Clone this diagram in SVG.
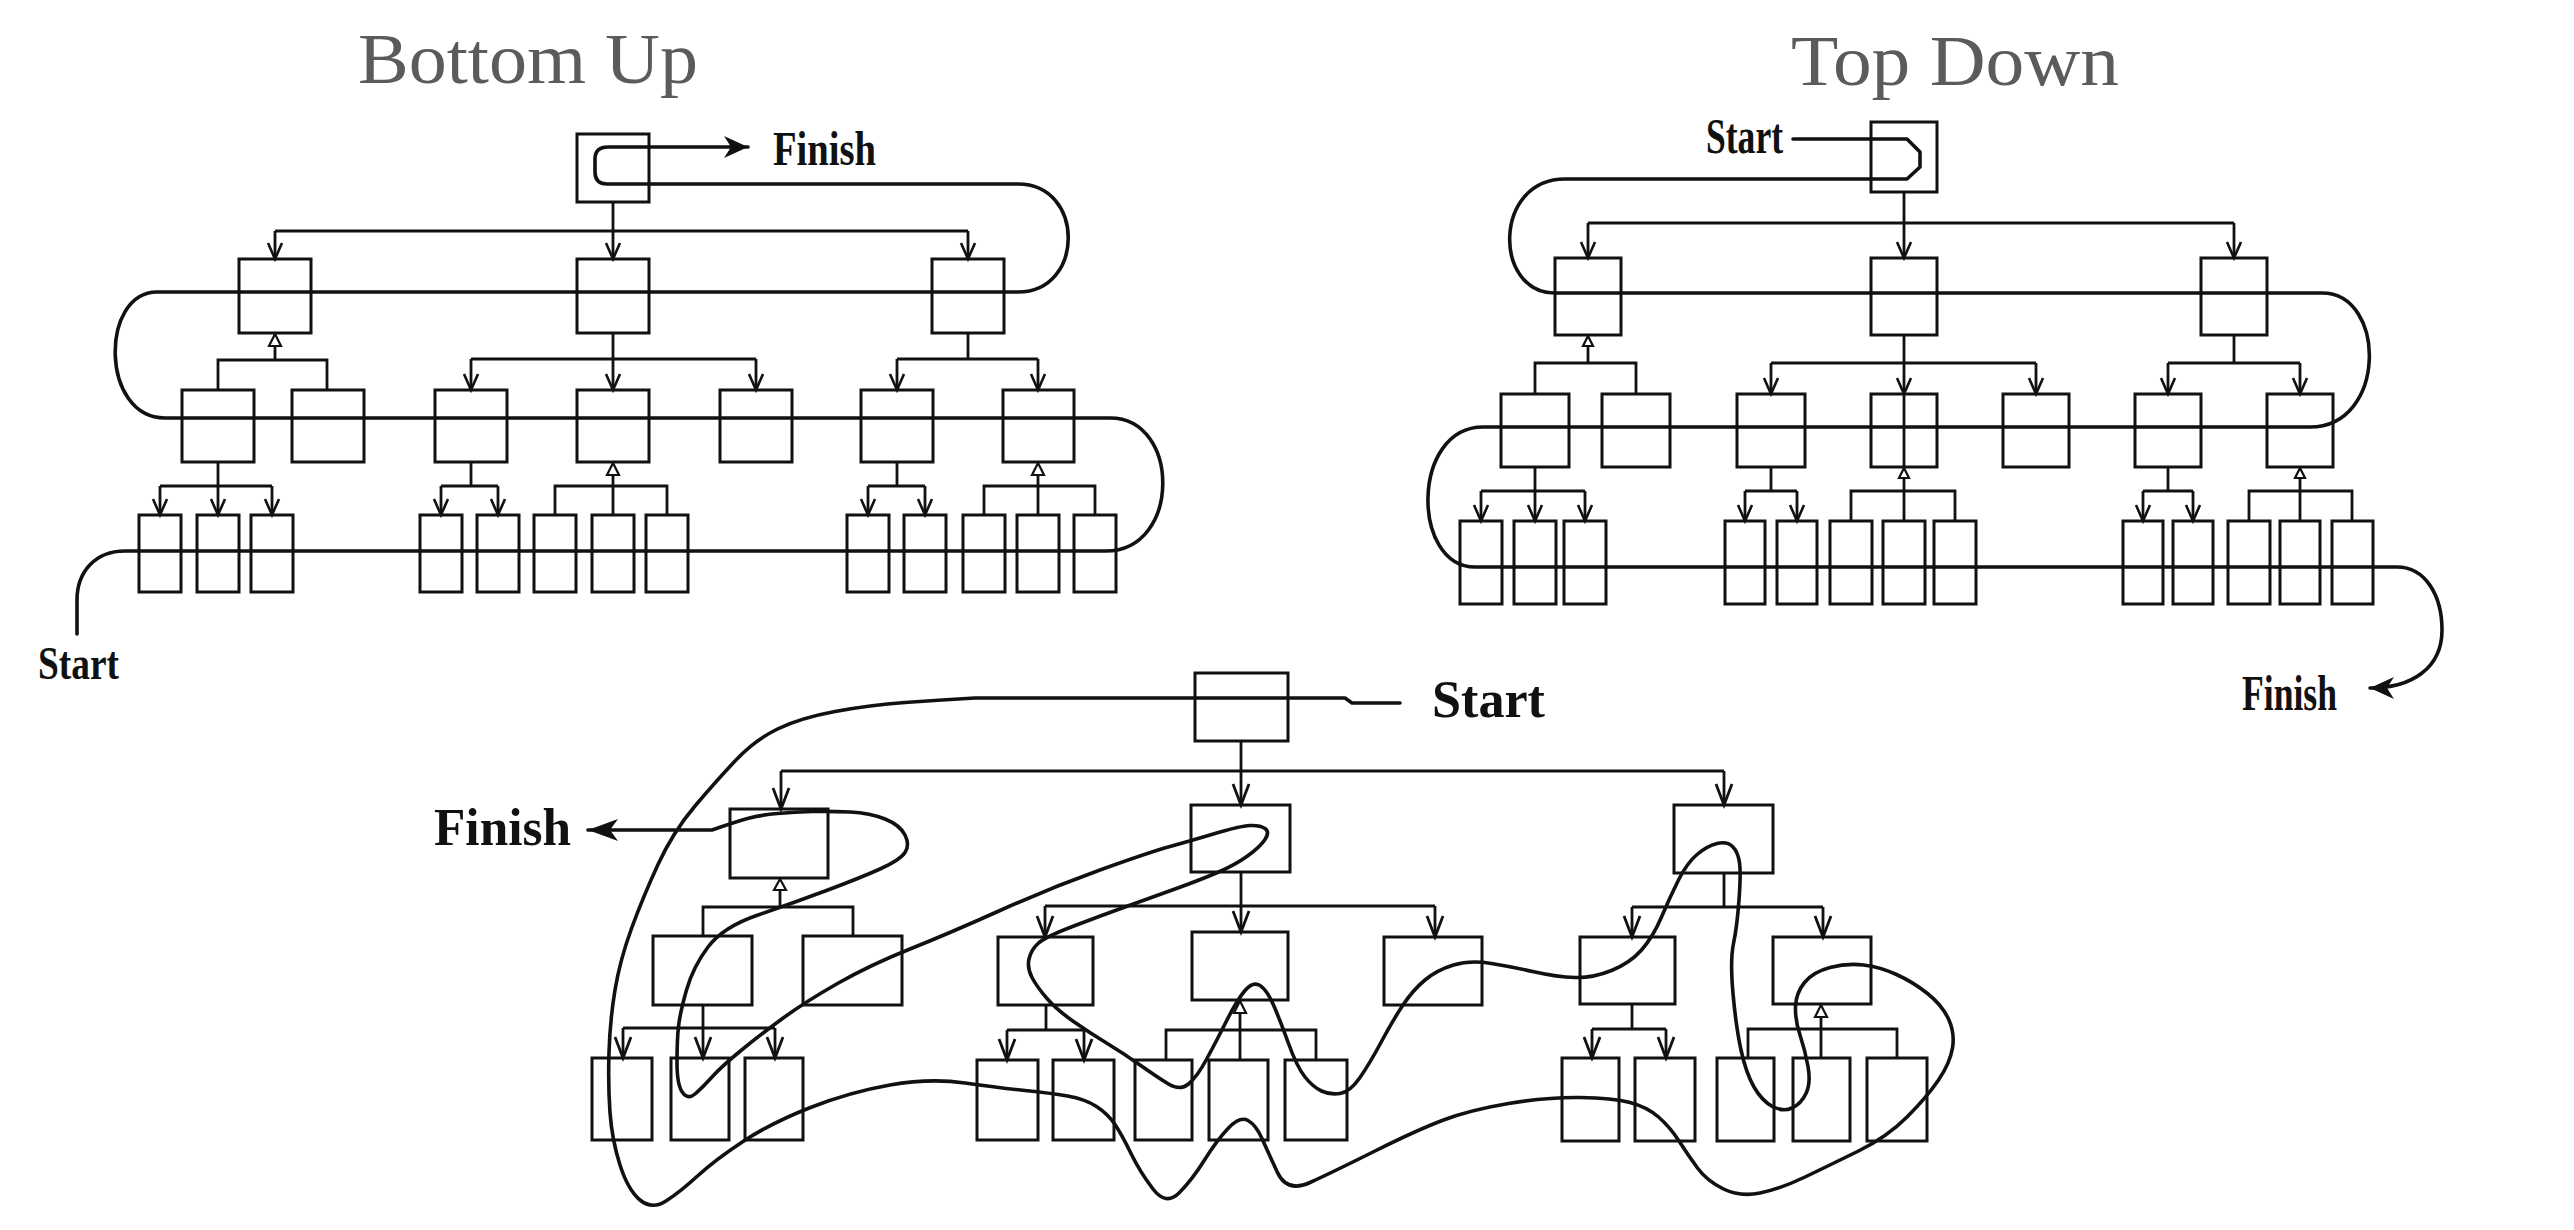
<svg xmlns="http://www.w3.org/2000/svg" width="2574" height="1230" viewBox="0 0 2574 1230">
<style>
.box{fill:none;stroke:#111;stroke-width:3}
.ln{fill:none;stroke:#111;stroke-width:2.8}
.walk{fill:none;stroke:#111;stroke-width:3.6;stroke-linecap:round;stroke-linejoin:round}
.tri{fill:#fff;stroke:#111;stroke-width:2.2}
.title{font-family:"Liberation Serif",serif;font-size:72px;fill:#5b5b5b}
.lbl{font-family:"Liberation Serif",serif;font-weight:bold;fill:#111}
.va{marker-end:url(#va)}
.vb{marker-end:url(#vb)}
</style>
<defs>
<marker id="va" markerUnits="userSpaceOnUse" viewBox="-20 -10 24 20" refX="0" refY="0" markerWidth="24" markerHeight="20" orient="auto" overflow="visible"><path d="M-16 -7 L0 0 L-16 7" fill="none" stroke="#111" stroke-width="2.6"/></marker>
<marker id="vb" markerUnits="userSpaceOnUse" viewBox="-24 -12 28 24" refX="0" refY="0" markerWidth="28" markerHeight="24" orient="auto" overflow="visible"><path d="M-21 -8 L0 0 L-21 8" fill="none" stroke="#111" stroke-width="2.8"/></marker>
<marker id="fa" markerUnits="userSpaceOnUse" viewBox="-28 -14 30 28" refX="0" refY="0" markerWidth="30" markerHeight="28" orient="auto" overflow="visible"><path d="M0 0 L-24 -11 L-17 0 L-24 11 Z" fill="#111"/></marker>
<marker id="fb" markerUnits="userSpaceOnUse" viewBox="-34 -14 36 28" refX="0" refY="0" markerWidth="36" markerHeight="28" orient="auto" overflow="visible"><path d="M0 0 L-30 -11 L-22 0 L-30 11 Z" fill="#111"/></marker>
</defs>
<rect width="2574" height="1230" fill="#fff"/>

<g id="titles">
<text class="title" x="358" y="83" textLength="340" lengthAdjust="spacingAndGlyphs">Bottom Up</text>
<text class="title" x="1791" y="85" textLength="328" lengthAdjust="spacingAndGlyphs">Top Down</text>
</g>

<g id="labels">
<g id="bu-finish"><text class="lbl" x="773" y="165" font-size="49" textLength="103" lengthAdjust="spacingAndGlyphs">Finish</text></g>
<g id="bu-start"><text class="lbl" x="38" y="679" font-size="47" textLength="81" lengthAdjust="spacingAndGlyphs">Start</text></g>
<g id="td-start"><text class="lbl" x="1706" y="153" font-size="50" textLength="77" lengthAdjust="spacingAndGlyphs">Start</text></g>
<g id="td-finish"><text class="lbl" x="2242" y="710" font-size="51" textLength="95" lengthAdjust="spacingAndGlyphs">Finish</text></g>
<g id="mx-finish"><text class="lbl" x="434" y="845" font-size="52" textLength="137" lengthAdjust="spacingAndGlyphs">Finish</text></g>
<g id="mx-start"><text class="lbl" x="1432" y="717" font-size="52" textLength="113" lengthAdjust="spacingAndGlyphs">Start</text></g>
</g>

<!-- Bottom Up nodes -->
<g id="bottom-up-nodes">
<g id="bu-root"><rect class="box" x="577" y="134" width="72" height="68"/></g>
<g id="bu-a"><rect class="box" x="239" y="259" width="72" height="74"/></g>
<g id="bu-b"><rect class="box" x="577" y="259" width="72" height="74"/></g>
<g id="bu-c"><rect class="box" x="932" y="259" width="72" height="74"/></g>
<g id="bu-a1"><rect class="box" x="182" y="390" width="72" height="72"/></g>
<g id="bu-a2"><rect class="box" x="292" y="390" width="72" height="72"/></g>
<g id="bu-b1"><rect class="box" x="435" y="390" width="72" height="72"/></g>
<g id="bu-b2"><rect class="box" x="577" y="390" width="72" height="72"/></g>
<g id="bu-b3"><rect class="box" x="720" y="390" width="72" height="72"/></g>
<g id="bu-c1"><rect class="box" x="861" y="390" width="72" height="72"/></g>
<g id="bu-c2"><rect class="box" x="1003" y="390" width="71" height="72"/></g>
<g id="bu-a1a"><rect class="box" x="139" y="515" width="42" height="77"/></g>
<g id="bu-a1b"><rect class="box" x="197" y="515" width="42" height="77"/></g>
<g id="bu-a1c"><rect class="box" x="251" y="515" width="42" height="77"/></g>
<g id="bu-b1a"><rect class="box" x="420" y="515" width="42" height="77"/></g>
<g id="bu-b1b"><rect class="box" x="477" y="515" width="42" height="77"/></g>
<g id="bu-b2a"><rect class="box" x="534" y="515" width="42" height="77"/></g>
<g id="bu-b2b"><rect class="box" x="592" y="515" width="42" height="77"/></g>
<g id="bu-b2c"><rect class="box" x="646" y="515" width="42" height="77"/></g>
<g id="bu-c1a"><rect class="box" x="847" y="515" width="42" height="77"/></g>
<g id="bu-c1b"><rect class="box" x="904" y="515" width="42" height="77"/></g>
<g id="bu-c2a"><rect class="box" x="963" y="515" width="42" height="77"/></g>
<g id="bu-c2b"><rect class="box" x="1017" y="515" width="42" height="77"/></g>
<g id="bu-c2c"><rect class="box" x="1074" y="515" width="42" height="77"/></g>
</g>

<!-- Top Down nodes -->
<g id="top-down-nodes">
<g id="td-root"><rect class="box" x="1871" y="122" width="66" height="70"/></g>
<g id="td-a"><rect class="box" x="1555" y="258" width="66" height="77"/></g>
<g id="td-b"><rect class="box" x="1871" y="258" width="66" height="77"/></g>
<g id="td-c"><rect class="box" x="2201" y="258" width="66" height="77"/></g>
<g id="td-a1"><rect class="box" x="1501" y="394" width="68" height="73"/></g>
<g id="td-a2"><rect class="box" x="1602" y="394" width="68" height="73"/></g>
<g id="td-b1"><rect class="box" x="1737" y="394" width="68" height="73"/></g>
<g id="td-b2"><rect class="box" x="1871" y="394" width="66" height="73"/></g>
<g id="td-b3"><rect class="box" x="2003" y="394" width="66" height="73"/></g>
<g id="td-c1"><rect class="box" x="2135" y="394" width="66" height="73"/></g>
<g id="td-c2"><rect class="box" x="2267" y="394" width="66" height="73"/></g>
<g id="td-a1a"><rect class="box" x="1460" y="521" width="42" height="83"/></g>
<g id="td-a1b"><rect class="box" x="1514" y="521" width="42" height="83"/></g>
<g id="td-a1c"><rect class="box" x="1564" y="521" width="42" height="83"/></g>
<g id="td-b1a"><rect class="box" x="1725" y="521" width="40" height="83"/></g>
<g id="td-b1b"><rect class="box" x="1777" y="521" width="40" height="83"/></g>
<g id="td-b2a"><rect class="box" x="1830" y="521" width="42" height="83"/></g>
<g id="td-b2b"><rect class="box" x="1883" y="521" width="42" height="83"/></g>
<g id="td-b2c"><rect class="box" x="1934" y="521" width="42" height="83"/></g>
<g id="td-c1a"><rect class="box" x="2123" y="521" width="40" height="83"/></g>
<g id="td-c1b"><rect class="box" x="2173" y="521" width="40" height="83"/></g>
<g id="td-c2a"><rect class="box" x="2228" y="521" width="42" height="83"/></g>
<g id="td-c2b"><rect class="box" x="2280" y="521" width="40" height="83"/></g>
<g id="td-c2c"><rect class="box" x="2332" y="521" width="41" height="83"/></g>
</g>

<!-- Mixed (bottom) nodes -->
<g id="mixed-nodes">
<g id="mx-root"><rect class="box" x="1195" y="673" width="93" height="68"/></g>
<g id="mx-a"><rect class="box" x="730" y="809" width="98" height="69"/></g>
<g id="mx-b"><rect class="box" x="1191" y="805" width="99" height="67"/></g>
<g id="mx-c"><rect class="box" x="1674" y="805" width="99" height="68"/></g>
<g id="mx-a1"><rect class="box" x="653" y="936" width="99" height="69"/></g>
<g id="mx-a2"><rect class="box" x="803" y="936" width="99" height="69"/></g>
<g id="mx-b1"><rect class="box" x="998" y="937" width="95" height="68"/></g>
<g id="mx-b2"><rect class="box" x="1192" y="932" width="96" height="68"/></g>
<g id="mx-b3"><rect class="box" x="1384" y="937" width="98" height="68"/></g>
<g id="mx-c1"><rect class="box" x="1580" y="937" width="95" height="67"/></g>
<g id="mx-c2"><rect class="box" x="1773" y="937" width="98" height="67"/></g>
<g id="mx-a1a"><rect class="box" x="592" y="1058" width="60" height="82"/></g>
<g id="mx-a1b"><rect class="box" x="671" y="1058" width="58" height="82"/></g>
<g id="mx-a1c"><rect class="box" x="745" y="1058" width="58" height="82"/></g>
<g id="mx-b1a"><rect class="box" x="977" y="1060" width="61" height="80"/></g>
<g id="mx-b1b"><rect class="box" x="1053" y="1060" width="61" height="80"/></g>
<g id="mx-b2a"><rect class="box" x="1135" y="1060" width="57" height="80"/></g>
<g id="mx-b2b"><rect class="box" x="1209" y="1060" width="59" height="80"/></g>
<g id="mx-b2c"><rect class="box" x="1285" y="1060" width="62" height="80"/></g>
<g id="mx-c1a"><rect class="box" x="1562" y="1058" width="57" height="83"/></g>
<g id="mx-c1b"><rect class="box" x="1635" y="1058" width="60" height="83"/></g>
<g id="mx-c2a"><rect class="box" x="1717" y="1058" width="57" height="83"/></g>
<g id="mx-c2b"><rect class="box" x="1793" y="1058" width="57" height="83"/></g>
<g id="mx-c2c"><rect class="box" x="1867" y="1058" width="60" height="83"/></g>
</g>

<g id="connectors">
<!-- Bottom Up tree -->
<g id="bu-edges">
<path class="ln va" d="M613 202 L613 259"/>
<path class="ln" d="M275 231 L968 231"/>
<path class="ln va" d="M275 231 L275 259"/>
<path class="ln va" d="M968 231 L968 259"/>
<polygon class="tri" points="275,334 269,346 281,346"/>
<path class="ln" d="M275 346 L275 360 M218 390 L218 360 L327 360 L327 390"/>
<path class="ln va" d="M613 333 L613 390"/>
<path class="ln" d="M471 359 L756 359"/>
<path class="ln va" d="M471 359 L471 390"/>
<path class="ln va" d="M756 359 L756 390"/>
<path class="ln" d="M968 333 L968 359 M897 359 L1038 359"/>
<path class="ln va" d="M897 359 L897 390"/>
<path class="ln va" d="M1038 359 L1038 390"/>
<path class="ln" d="M218 462 L218 486 M160 486 L272 486"/>
<path class="ln va" d="M160 486 L160 515"/>
<path class="ln va" d="M218 486 L218 515"/>
<path class="ln va" d="M272 486 L272 515"/>
<path class="ln" d="M471 462 L471 486 M441 486 L498 486"/>
<path class="ln va" d="M441 486 L441 515"/>
<path class="ln va" d="M498 486 L498 515"/>
<polygon class="tri" points="613,463 607,475 619,475"/>
<path class="ln" d="M613 475 L613 515 M555 515 L555 486 L667 486 L667 515"/>
<path class="ln" d="M897 462 L897 486 M868 486 L925 486"/>
<path class="ln va" d="M868 486 L868 515"/>
<path class="ln va" d="M925 486 L925 515"/>
<polygon class="tri" points="1038,463 1032,475 1044,475"/>
<path class="ln" d="M1038 475 L1038 515 M984 515 L984 486 L1095 486 L1095 515"/>
</g>
<!-- Top Down tree -->
<g id="td-edges">
<path class="ln va" d="M1904 192 L1904 258"/>
<path class="ln" d="M1588 223 L2234 223"/>
<path class="ln va" d="M1588 223 L1588 258"/>
<path class="ln va" d="M2234 223 L2234 258"/>
<polygon class="tri" points="1588,336 1583,346 1593,346"/>
<path class="ln" d="M1588 346 L1588 363 M1535 394 L1535 363 L1636 363 L1636 394"/>
<path class="ln va" d="M1904 335 L1904 394"/>
<path class="ln" d="M1904 394 L1904 467 M1771 363 L2036 363"/>
<path class="ln va" d="M1771 363 L1771 394"/>
<path class="ln va" d="M2036 363 L2036 394"/>
<path class="ln" d="M2234 335 L2234 363 M2168 363 L2300 363"/>
<path class="ln va" d="M2168 363 L2168 394"/>
<path class="ln va" d="M2300 363 L2300 394"/>
<path class="ln" d="M1535 467 L1535 491 M1481 491 L1585 491"/>
<path class="ln va" d="M1481 491 L1481 521"/>
<path class="ln va" d="M1535 491 L1535 521"/>
<path class="ln va" d="M1585 491 L1585 521"/>
<path class="ln" d="M1771 467 L1771 491 M1745 491 L1797 491"/>
<path class="ln va" d="M1745 491 L1745 521"/>
<path class="ln va" d="M1797 491 L1797 521"/>
<polygon class="tri" points="1904,468 1899,478 1909,478"/>
<path class="ln" d="M1904 478 L1904 521 M1851 521 L1851 491 L1955 491 L1955 521"/>
<path class="ln" d="M2168 467 L2168 491 M2143 491 L2193 491"/>
<path class="ln va" d="M2143 491 L2143 521"/>
<path class="ln va" d="M2193 491 L2193 521"/>
<polygon class="tri" points="2300,468 2295,478 2305,478"/>
<path class="ln" d="M2300 478 L2300 521 M2249 521 L2249 491 L2352 491 L2352 521"/>
</g>
<!-- Mixed tree -->
<g id="mx-edges">
<path class="ln vb" d="M1241 741 L1241 805"/>
<path class="ln" d="M781 771 L1724 771"/>
<path class="ln vb" d="M781 771 L781 809"/>
<path class="ln vb" d="M1724 771 L1724 805"/>
<polygon class="tri" points="780,879 774,890 786,890"/>
<path class="ln" d="M780 890 L780 907 M703 936 L703 907 L853 907 L853 936"/>
<path class="ln vb" d="M1241 872 L1241 932"/>
<path class="ln" d="M1045 906 L1435 906"/>
<path class="ln vb" d="M1045 906 L1045 937"/>
<path class="ln vb" d="M1435 906 L1435 937"/>
<path class="ln" d="M1724 873 L1724 907 M1632 907 L1823 907"/>
<path class="ln vb" d="M1632 907 L1632 937"/>
<path class="ln vb" d="M1823 907 L1823 937"/>
<path class="ln" d="M703 1005 L703 1028 M623 1028 L775 1028"/>
<path class="ln vb" d="M623 1028 L623 1058"/>
<path class="ln vb" d="M703 1028 L703 1058"/>
<path class="ln vb" d="M775 1028 L775 1058"/>
<path class="ln" d="M1046 1005 L1046 1030 M1007 1030 L1084 1030"/>
<path class="ln vb" d="M1007 1030 L1007 1060"/>
<path class="ln vb" d="M1084 1030 L1084 1060"/>
<polygon class="tri" points="1240,1001 1234,1013 1246,1013"/>
<path class="ln" d="M1240 1013 L1240 1060 M1166 1060 L1166 1030 L1316 1030 L1316 1060"/>
<path class="ln" d="M1632 1004 L1632 1029 M1592 1029 L1666 1029"/>
<path class="ln vb" d="M1592 1029 L1592 1058"/>
<path class="ln vb" d="M1666 1029 L1666 1058"/>
<polygon class="tri" points="1821,1005 1815,1017 1827,1017"/>
<path class="ln" d="M1821 1017 L1821 1058 M1748 1058 L1748 1029 L1897 1029 L1897 1058"/>
</g>
<!-- traversal paths -->
<g id="walks">
<path id="bu-walk" class="walk" marker-end="url(#fa)" d="M77 634 L77 600 C77 572 95 551 125 551 L1106 551 C1181 551 1181 418 1110 418 L165 418 C100 418 100 292 157 292 L1018 292 C1085 292 1085 184 1018 184 L607 184 Q595 184 595 172 L595 159 Q595 147 608 147 L748 147"/>
<path id="td-walk" class="walk" marker-end="url(#fa)" d="M1793 139 L1907 139 L1920 152 L1920 167 L1907 179 L1565 179 C1493 179 1493 293 1555 293 L2322 293 C2387 293 2387 427 2310 427 L1483 427 C1411 427 1411 567 1475 567 L2397 567 C2425 567 2442 595 2442 630 C2442 668 2412 688 2370 688"/>
<path id="mx-walk" class="walk" marker-end="url(#fb)" d="M1400 703 L1352 703 L1345 698 L975 698 Q940 700 905 702.5 Q870 705 835 711.5 Q800 718 777.5 729 Q755 740 736 760 Q717 780 695 806 Q673 832 658 864.5 Q643 897 631.5 928.5 Q620 960 615 990 Q610 1020 609 1052.5 Q608 1085 610 1112.5 Q612 1140 620 1165 Q628 1190 640 1200 Q652 1210 666 1201 Q680 1192 697.5 1176 Q715 1160 743 1141.5 Q771 1123 810.5 1107.5 Q850 1092 890 1085 Q930 1078 965 1083 Q1000 1088 1025 1090.5 Q1050 1093 1067.5 1096 Q1085 1099 1096.5 1106.5 Q1108 1114 1115 1124.5 Q1122 1135 1131 1153.5 Q1140 1172 1153 1189 Q1166 1206 1179 1193 Q1192 1180 1204.5 1160 Q1217 1140 1228.5 1128 Q1240 1116 1248 1120.5 Q1256 1125 1262 1138.5 Q1268 1152 1277.5 1172.5 Q1287 1193 1310 1182.5 Q1333 1172 1375 1151 Q1417 1130 1443.5 1120 Q1470 1110 1508.5 1103.5 Q1547 1097 1580 1097.5 Q1613 1098 1630 1102.5 Q1647 1107 1658.5 1117 Q1670 1127 1679 1141 Q1688 1155 1697.5 1168 Q1707 1181 1723.5 1189 Q1740 1197 1760 1193 Q1780 1189 1805 1177 Q1830 1165 1858.5 1151 Q1887 1137 1907 1117 Q1927 1097 1938.5 1080 Q1950 1063 1952.5 1048 Q1955 1033 1948.5 1019 Q1942 1005 1927.5 993.5 Q1913 982 1896.5 974.5 Q1880 967 1863.5 965 Q1847 963 1830 967.5 Q1813 972 1804.5 982.5 Q1796 993 1795.5 1006.5 Q1795 1020 1800 1035 Q1805 1050 1808 1066.5 Q1811 1083 1806 1093.5 Q1801 1104 1792 1108 Q1783 1112 1772.5 1106.5 Q1762 1101 1754 1087 Q1746 1073 1741 1050 Q1736 1027 1733 993.5 Q1730 960 1733.5 943.5 Q1737 927 1739 900 Q1741 873 1739.5 862.5 Q1738 852 1732.5 846.5 Q1727 841 1717 843.5 Q1707 846 1697 854.5 Q1687 863 1678.5 880 Q1670 897 1661.5 917 Q1653 937 1641.5 950 Q1630 963 1611.5 970.5 Q1593 978 1575 977.5 Q1557 977 1535 972 Q1513 967 1491.5 963.5 Q1470 960 1453.5 965 Q1437 970 1425 980 Q1413 990 1403 1005 Q1393 1020 1381.5 1041.5 Q1370 1063 1360 1077.5 Q1350 1092 1340 1093.5 Q1330 1095 1321.5 1091 Q1313 1087 1305 1077 Q1297 1067 1288.5 1043.5 Q1280 1020 1273.5 1005 Q1267 990 1260 985.5 Q1253 981 1245 990.5 Q1237 1000 1227 1020 Q1217 1040 1207 1058.5 Q1197 1077 1188.5 1084 Q1180 1091 1168.5 1084 Q1157 1077 1140 1065 Q1123 1053 1106.5 1043 Q1090 1033 1073.5 1021.5 Q1057 1010 1047 998.5 Q1037 987 1032 977.5 Q1027 968 1029 959 Q1031 950 1038 943.5 Q1045 937 1072.5 926.5 Q1100 916 1125 907 Q1150 898 1175 889 Q1200 880 1217.5 872.5 Q1235 865 1247.5 856 Q1260 847 1265 839.5 Q1270 832 1265 828.5 Q1260 825 1250 825.5 Q1240 826 1215 833.5 Q1190 841 1170 846.5 Q1150 852 1100 870 Q1050 888 1000 910.5 Q950 933 910 949 Q870 965 837.5 983.5 Q805 1002 782.5 1018.5 Q760 1035 741 1050.5 Q722 1066 712 1077 Q702 1088 695 1094 Q688 1100 682.5 1092.5 Q677 1085 677 1062.5 Q677 1040 678.5 1026.5 Q680 1013 686.5 990 Q693 967 708 947 Q723 927 758 915 Q793 903 826.5 890.5 Q860 878 880 869 Q900 860 905 852.5 Q910 845 905 835 Q900 825 885 819 Q870 813 850 812 Q830 811 812.5 811.5 Q795 812 777.5 813.5 Q760 815 747.5 818.5 Q735 822 712 830 L588 830"/>
</g>
</g>
</svg>
